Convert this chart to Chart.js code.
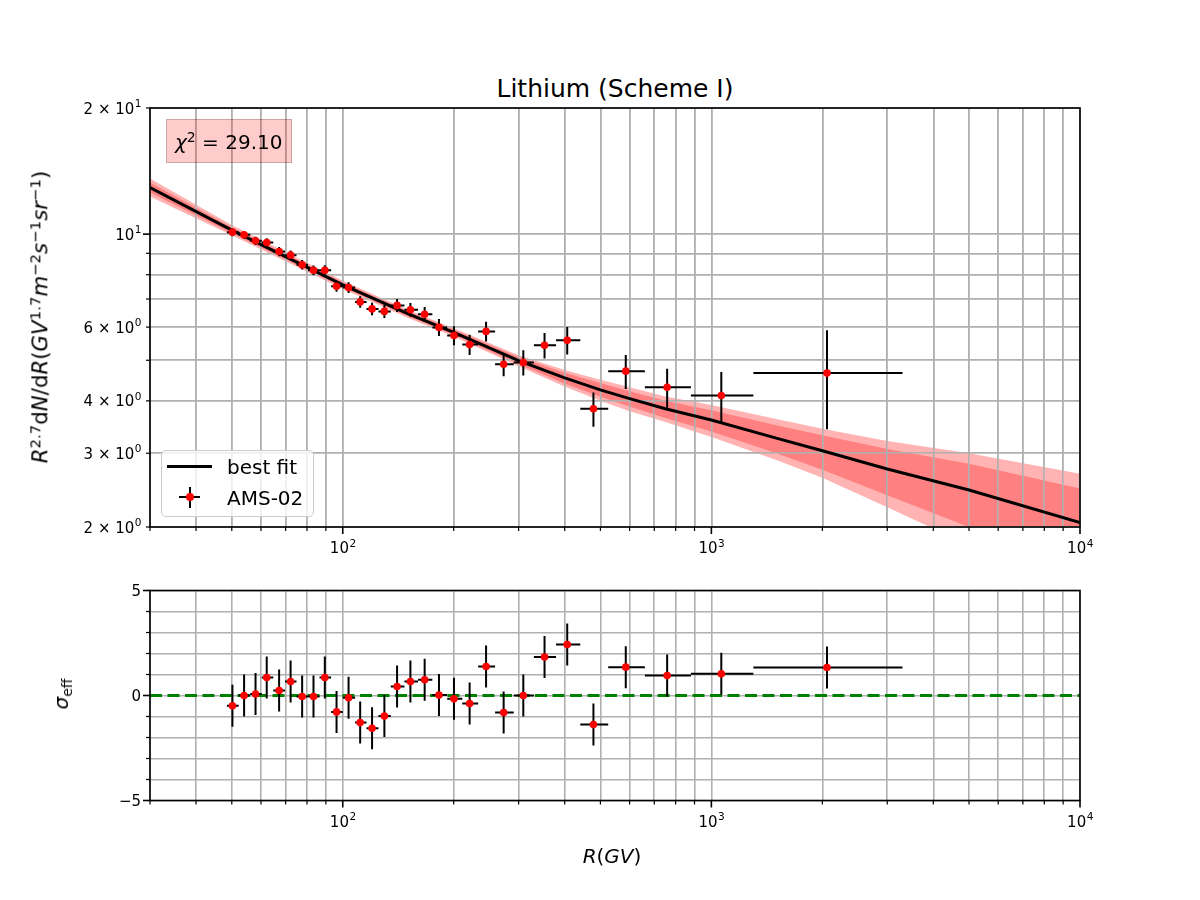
<!DOCTYPE html>
<html lang="en">

<head>
    <meta charset="UTF-8">
    <title>Lithium (Scheme I)</title>
    <script src="https://cdn.jsdelivr.net/npm/chart.js"></script>
    <style>
        body { margin: 0; background: #fff; }
        #figure { position: relative; width: 1200px; height: 900px; background: #fff; font-family: 'DejaVu Sans', sans-serif; color: #000; }
        #figure canvas { position: absolute; left: 0; }
        .text { position: absolute; white-space: nowrap; line-height: 1; }
        .text sup { font-size: 70%; line-height: 0; vertical-align: 0.5em; }
        .text sub { font-size: 70%; line-height: 0; vertical-align: -0.25em; }
        .rotated { transform: translate(-50%, -50%) rotate(-90deg); font-size: 20px; }
        .chi-box { position: absolute; left: 166px; top: 119px; width: 126px; height: 44px; box-sizing: border-box;
                   background: rgba(255, 0, 0, 0.2); border: 1.5px solid rgba(0, 0, 0, 0.2); }
        .legend-box { position: absolute; left: 161px; top: 450px; width: 153px; height: 67px; box-sizing: border-box;
                      background: rgba(255, 255, 255, 0.8); border: 1.5px solid #cccccc; border-radius: 5px; }
        .legend-box div { position: absolute; }
    </style>
</head>

<body>
    <div id="figure">
        <div class="text" style="left:150px; width:930px; top:76px; text-align:center; font-size:25px;">Lithium (Scheme I)</div>

        <canvas id="fluxChart" width="1200" height="560" style="top:0"></canvas>
        <canvas id="residualChart" width="1200" height="340" style="top:560px"></canvas>

        <div class="text rotated" style="left:40px; top:317px; font-size:21.3px;"><i>R</i><sup>2.7</sup>d<i>N</i>/d<i>R</i>(<i>GV</i><sup>1.7</sup><i>m</i><sup>−2</sup><i>s</i><sup>−1</sup><i>sr</i><sup>−1</sup>)</div>
        <div class="text rotated" style="left:61px; top:694px;"><i>σ</i><sub>eff</sub></div>
        <div class="text" style="left:612px; top:856px; transform:translate(-50%, -50%); font-size:20px;"><i>R</i>(<i>GV</i>)</div>

        <div class="chi-box">
            <div class="text" style="left:8px; top:12px; font-size:20px;"><i>χ</i><sup>2</sup> = 29.10</div>
        </div>

        <div class="legend-box">
            <div style="left:5px; top:14px; width:45px; height:3px; background:#000;"></div>
            <div class="text" style="left:65px; top:5.5px; font-size:20px;">best fit</div>
            <div style="left:17px; top:45px; width:21px; height:2px; background:#000;"></div>
            <div style="left:27px; top:35.5px; width:2px; height:21px; background:#000;"></div>
            <div style="left:24.2px; top:42.2px; width:7.6px; height:7.6px; border-radius:50%; background:#ff0000;"></div>
            <div class="text" style="left:65px; top:37px; font-size:20px;">AMS-02</div>
        </div>
    </div>

<script>
    // AMS-02 lithium points
    const rigidity = [50.2, 54.0, 58.0, 62.2, 67.2, 72.2, 77.6, 83.3, 89.4, 96.2, 103.7, 111.5, 120.1, 129.7, 140.4,
        152.6, 166.8, 182.4, 200.3, 220.9, 244.8, 273.2, 308.9, 352.7, 406.4, 478.7, 585.8, 758.6, 1064, 2059];
    const binLow = [48.5, 52.2, 56.1, 60.3, 64.8, 69.7, 74.9, 80.5, 86.5, 93.0, 100, 108, 116, 125, 135,
        147, 160, 175, 192, 211, 233, 259, 291, 330, 379, 441, 525, 660, 880, 1300];
    const binHigh = [52.2, 56.1, 60.3, 64.8, 69.7, 74.9, 80.5, 86.5, 93.0, 100, 108, 116, 125, 135, 147,
        160, 175, 192, 211, 233, 259, 291, 330, 379, 441, 525, 660, 880, 1300, 3300];
    const flux = [10.11, 9.96, 9.64, 9.55, 9.09, 8.91, 8.45, 8.20, 8.20, 7.51, 7.46, 6.89, 6.63, 6.54, 6.76,
        6.60, 6.44, 5.99, 5.73, 5.45, 5.86, 4.89, 4.94, 5.43, 5.58, 3.83, 4.71, 4.31, 4.12, 4.66];
    const fluxErr = [0.22, 0.22, 0.22, 0.23, 0.23, 0.23, 0.22, 0.22, 0.23, 0.22, 0.22, 0.22, 0.23, 0.23, 0.24,
        0.25, 0.26, 0.28, 0.30, 0.30, 0.32, 0.31, 0.34, 0.38, 0.42, 0.36, 0.44, 0.46, 0.57, 1.24];
    const residual = [-0.49, 0.00, 0.07, 0.86, 0.24, 0.67, -0.05, -0.05, 0.86, -0.78, -0.11, -1.29, -1.56, -0.98, 0.43,
        0.67, 0.75, 0.02, -0.16, -0.38, 1.38, -0.81, 0.00, 1.83, 2.43, -1.38, 1.35, 0.95, 1.03, 1.33];
    const residualErr = [1, 1, 1, 1, 1, 1, 1, 1, 1, 1, 1, 1, 1, 1, 1,
        1, 1, 1, 1, 1, 1, 1, 1, 1, 1, 1, 1, 1, 1, 1];

    // best fit and its 1 and 2 sigma bands
    const modelR = [30, 50, 100, 150, 200, 300, 400, 500, 600, 750, 1000, 1500, 2000, 3000, 5000, 10000];
    const bestFit = [12.92, 10.22, 7.57, 6.46, 5.83, 4.99, 4.54, 4.25, 4.05, 3.83, 3.60, 3.26, 3.04, 2.75, 2.45, 2.05];
    const band2Hi = [13.58, 10.51, 7.74, 6.60, 5.96, 5.14, 4.74, 4.49, 4.31, 4.10, 3.91, 3.62, 3.43, 3.21, 3.00, 2.68];
    const band2Lo = [12.30, 9.94, 7.40, 6.32, 5.70, 4.84, 4.33, 4.00, 3.78, 3.56, 3.28, 2.89, 2.62, 2.23, 1.81, 1.36];
    const band1Hi = [13.28, 10.39, 7.68, 6.55, 5.91, 5.09, 4.67, 4.41, 4.22, 4.00, 3.80, 3.50, 3.31, 3.07, 2.83, 2.47];
    const band1Lo = [12.57, 10.05, 7.47, 6.37, 5.75, 4.89, 4.40, 4.09, 3.88, 3.64, 3.38, 3.00, 2.74, 2.38, 2.00, 1.56];

    // axes ('^' marks a superscript)
    const rMin = 30, rMax = 10000;
    const rTicks = [30, 40, 50, 60, 70, 80, 90, 100, 200, 300, 400, 500, 600, 700, 800, 900,
        1000, 2000, 3000, 4000, 5000, 6000, 7000, 8000, 9000, 10000];
    const rTickText = ['', '', '', '', '', '', '', '10^2', '', '', '', '', '', '', '', '',
        '10^3', '', '', '', '', '', '', '', '', '10^4'];
    const rMajor = [100, 1000, 10000];
    const fluxTicks = [2, 3, 4, 5, 6, 7, 8, 9, 10, 20];
    const fluxTickText = ['2 × 10^0', '3 × 10^0', '4 × 10^0', '', '6 × 10^0', '', '', '', '10^1', '2 × 10^1'];
    const fluxMajor = [10];
    const sigmaTicks = [-5, 0, 5];
    const sigmaTickText = ['−5', '0', '5'];

    const gridColor = '#b0b0b0';
    const fontName = "'DejaVu Sans', sans-serif";

    Chart.defaults.font.family = fontName;
    Chart.defaults.color = '#000';

    function pairs(xs, ys) {
        return xs.map((x, i) => ({ x: x, y: ys[i] }));
    }

    // error bar segments, split by null points
    function xErrorSegments(ys) {
        const pts = [];
        rigidity.forEach((r, i) => {
            pts.push({ x: binLow[i], y: ys[i] }, { x: binHigh[i], y: ys[i] }, { x: binHigh[i], y: null });
        });
        return pts;
    }
    function yErrorSegments(ys, errs) {
        const pts = [];
        rigidity.forEach((r, i) => {
            pts.push({ x: r, y: ys[i] - errs[i] }, { x: r, y: ys[i] + errs[i] }, { x: r, y: null });
        });
        return pts;
    }

    function errorDataset(data, order) {
        return { data: data, borderColor: '#000', borderWidth: 2, pointRadius: 0, fill: false, order: order };
    }
    function pointDataset(data) {
        return { data: data, showLine: false, pointRadius: 3.8, pointBackgroundColor: '#ff0000',
            pointBorderWidth: 0, order: 1 };
    }

    const gridStyle = { color: gridColor, lineWidth: 1.6, tickLength: 7, tickColor: 'rgba(0,0,0,0)' };

    function rigidityAxis(height) {
        return {
            type: 'logarithmic',
            position: 'bottom',
            min: rMin,
            max: rMax,
            afterBuildTicks: axis => {
                axis.ticks = rTicks.map(v => ({ value: v, major: rMajor.includes(v) }));
            },
            afterFit: axis => { axis.height = height; },
            grid: gridStyle,
            border: { display: false },
            ticks: { display: false }
        };
    }

    // tick label with an optional superscript, like "2 × 10^1"
    function drawLabel(ctx, text, x, y, align) {
        const parts = text.split('^');
        ctx.font = '15px ' + fontName;
        const wBase = ctx.measureText(parts[0]).width;
        let wExp = 0;
        if (parts[1]) {
            ctx.font = '10.5px ' + fontName;
            wExp = ctx.measureText(parts[1]).width;
        }
        const x0 = align === 'right' ? x - wBase - wExp : x - (wBase + wExp) / 2;
        ctx.textAlign = 'left';
        ctx.textBaseline = 'alphabetic';
        ctx.font = '15px ' + fontName;
        ctx.fillText(parts[0], x0, y);
        if (parts[1]) {
            ctx.font = '10.5px ' + fontName;
            ctx.fillText(parts[1], x0 + wBase + 0.5, y - 6.5);
        }
    }

    // frame on all four sides, major/minor tick marks and tick labels
    const frame = {
        id: 'frame',
        afterDatasetsDraw(chart, args, opts) {
            const ctx = chart.ctx;
            const a = chart.chartArea;
            ctx.save();
            ctx.strokeStyle = '#000';
            ctx.fillStyle = '#000';
            ['x', 'y'].forEach(id => {
                const s = chart.scales[id];
                s.ticks.forEach(t => {
                    const len = t.major ? 7 : 4;
                    const p = s.getPixelForValue(t.value);
                    ctx.lineWidth = t.major ? 1.6 : 1.2;
                    ctx.beginPath();
                    if (id === 'x') {
                        ctx.moveTo(p, a.bottom);
                        ctx.lineTo(p, a.bottom + len);
                    } else {
                        ctx.moveTo(a.left, p);
                        ctx.lineTo(a.left - len, p);
                    }
                    ctx.stroke();
                });
            });
            ctx.lineWidth = 1.6;
            ctx.strokeRect(a.left, a.top, a.right - a.left, a.bottom - a.top);

            rTicks.forEach((v, i) => {
                if (rTickText[i]) drawLabel(ctx, rTickText[i], chart.scales.x.getPixelForValue(v), a.bottom + 26, 'center');
            });
            opts.yTicks.forEach((v, i) => {
                if (opts.yText[i]) drawLabel(ctx, opts.yText[i], a.left - 9, chart.scales.y.getPixelForValue(v) + 5.5, 'right');
            });
            ctx.restore();
        }
    };

    // grid sits on top of the bands but under the line and points
    const gridOverBands = {
        id: 'gridOverBands',
        afterDatasetDraw(chart, args) {
            if (chart.canvas.id !== 'fluxChart' || args.index !== 2) return;
            chart.scales.x.drawGrid(chart.chartArea);
            chart.scales.y.drawGrid(chart.chartArea);
        }
    };

    new Chart(document.getElementById('fluxChart'), {
        type: 'line',
        data: {
            datasets: [
                { data: pairs(modelR, band2Hi), fill: 1, backgroundColor: '#ffb3b3', borderWidth: 0, pointRadius: 0, order: 7 },
                { data: pairs(modelR, band2Lo), fill: false, borderWidth: 0, pointRadius: 0, order: 8 },
                { data: pairs(modelR, band1Hi), fill: 3, backgroundColor: '#ff8080', borderWidth: 0, pointRadius: 0, order: 5 },
                { data: pairs(modelR, band1Lo), fill: false, borderWidth: 0, pointRadius: 0, order: 6 },
                { data: pairs(modelR, bestFit), borderColor: '#000', borderWidth: 3, pointRadius: 0, fill: false, tension: 0, order: 4 },
                errorDataset(xErrorSegments(flux), 3),
                errorDataset(yErrorSegments(flux, fluxErr), 2),
                pointDataset(pairs(rigidity, flux))
            ]
        },
        options: {
            responsive: false,
            animation: false,
            devicePixelRatio: 1,
            events: [],
            layout: { padding: { left: 0, right: 120, top: 108, bottom: 0 } },
            plugins: {
                legend: { display: false },
                tooltip: { enabled: false },
                frame: { yTicks: fluxTicks, yText: fluxTickText }
            },
            scales: {
                x: rigidityAxis(33),
                y: {
                    type: 'logarithmic',
                    min: 2,
                    max: 20,
                    afterBuildTicks: axis => {
                        axis.ticks = fluxTicks.map(v => ({ value: v, major: fluxMajor.includes(v) }));
                    },
                    afterFit: axis => { axis.width = 150; },
                    grid: gridStyle,
                    border: { display: false },
                    ticks: { display: false }
                }
            }
        },
        plugins: [gridOverBands, frame]
    });

    new Chart(document.getElementById('residualChart'), {
        type: 'line',
        data: {
            datasets: [
                { data: [{ x: rMin, y: 0 }, { x: rMax, y: 0 }], borderColor: '#008000', borderWidth: 3.2,
                  borderDash: [12, 5.5], pointRadius: 0, fill: false, order: 4 },
                errorDataset(xErrorSegments(residual), 3),
                errorDataset(yErrorSegments(residual, residualErr), 2),
                pointDataset(pairs(rigidity, residual))
            ]
        },
        options: {
            responsive: false,
            animation: false,
            devicePixelRatio: 1,
            events: [],
            layout: { padding: { left: 0, right: 120, top: 30.5, bottom: 0 } },
            plugins: {
                legend: { display: false },
                tooltip: { enabled: false },
                frame: { yTicks: sigmaTicks, yText: sigmaTickText }
            },
            scales: {
                x: rigidityAxis(99.5),
                y: {
                    type: 'linear',
                    min: -5,
                    max: 5,
                    afterBuildTicks: axis => {
                        axis.ticks.forEach(t => { t.major = sigmaTicks.includes(t.value); });
                    },
                    afterFit: axis => { axis.width = 150; },
                    grid: gridStyle,
                    border: { display: false },
                    ticks: { stepSize: 1, display: false }
                }
            }
        },
        plugins: [frame]
    });
</script>
</body>

</html>
